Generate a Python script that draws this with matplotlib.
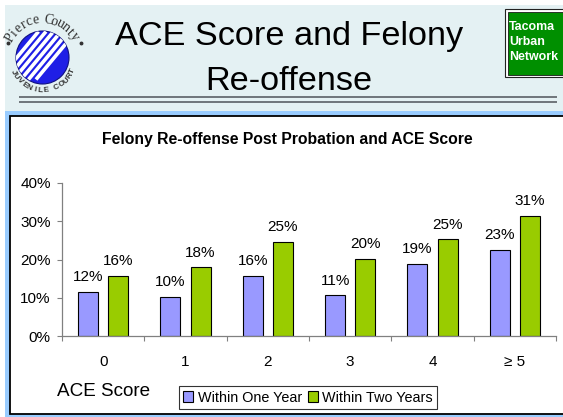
import numpy as np
import matplotlib
matplotlib.use("Agg")
import matplotlib.pyplot as plt
from matplotlib.patches import Rectangle, Circle

plt.rcParams['font.family'] = ['Liberation Sans', 'DejaVu Sans']

# ---- data ----
categories = ['0', '1', '2', '3', '4', '\u2265 5']
one_year = [11.6, 10.3, 15.8, 10.6, 18.9, 22.6]
two_years = [15.8, 18.0, 24.6, 20.2, 25.3, 31.4]
series_names = ['Within One Year', 'Within Two Years']
yticks = [0, 10, 20, 30, 40]
ytick_labels = ['0%', '10%', '20%', '30%', '40%']
chart_title = 'Felony Re-offense Post Probation and ACE Score'
xlabel = 'ACE Score'

W, H = 563, 417
fig = plt.figure(figsize=(W / 100, H / 100), dpi=100)
fig.patch.set_facecolor('white')

# background axes in pixel coords
bg = fig.add_axes([0, 0, 1, 1], zorder=0)
bg.set_xlim(0, W)
bg.set_ylim(H, 0)
bg.axis('off')

bg.add_patch(Rectangle((5, 5), W, 106, facecolor='#e4f1f3', edgecolor='none'))
bg.add_patch(Rectangle((5, 111), W, H, facecolor='#99ccff', edgecolor='none'))
bg.add_patch(Rectangle((9.5, 116), W + 10, 298, facecolor='white', edgecolor='black', linewidth=1.3))
# double rule
for yy in (97.3, 101.8):
    bg.plot([19, 557], [yy, yy], color='#5a6066', linewidth=1.2, solid_capstyle='butt')

# slide title
bg.text(289, 36, 'ACE Score and Felony', fontsize=24.7, ha='center', va='center', color='black')
bg.text(289, 81, 'Re-offense', fontsize=24.7, ha='center', va='center', color='black')

# green box
bg.add_patch(Rectangle((505, 9), 70, 68, facecolor='white', edgecolor='#222222', linewidth=0.8))
bg.add_patch(Rectangle((507.5, 11.5), 70, 63, facecolor='#008f00', edgecolor='#1a1a1a', linewidth=0.6))
for txt, yy in (('Tacoma', 26.5), ('Urban', 42), ('Network', 57)):
    bg.text(509, yy, txt, fontsize=8.9, fontweight='bold', color='white', ha='left', va='center')

# logo
cx, cy, r = 42.5, 57.5, 26.5
circ = Circle((cx, cy), r, facecolor='#1f1fe6', edgecolor='#101080', linewidth=0.8)
bg.add_patch(circ)
for k in range(6):
    off = -14 + k * 7.5
    x0, y0 = cx - 30 + off, cy + 22
    x1, y1 = cx + 10 + off, cy - 26
    ln, = bg.plot([x0, x1], [y0, y1], color='white', linewidth=2.6, solid_capstyle='butt')
    ln.set_clip_path(circ)
bg.plot([8.3, 81], [42.7, 42.7], linestyle='none', marker='o', markersize=1.8, color='#333333')

def arc_text(text, cxx, cyy, rr, a0, a1, top, **kw):
    n = len(text)
    angs = np.linspace(a0, a1, n)
    for ch, a in zip(text, angs):
        t = np.deg2rad(a)
        x = cxx + rr * np.cos(t)
        y = cyy - rr * np.sin(t)
        rot = a - 90 if top else a + 90
        bg.text(x, y, ch, rotation=rot, ha='center', va='center', rotation_mode='anchor', **kw)

arc_text('Pierce County', cx, cy - 1, 37, 150, 32, True, family='Liberation Serif', fontsize=10, color='#333333')
arc_text('JUVENILE COURT', cx, cy, 33, 206, 336, False, fontsize=5.8, fontweight='bold', color='#333333')

# chart title
bg.text(287, 139.5, chart_title, fontsize=11.3, fontweight='bold', ha='center', va='center')
bg.text(104, 391, xlabel, fontsize=13.6, ha='center', va='center')

# ---- chart ----
L, R, B, T = 62, 556, 336, 183
ax = fig.add_axes([L / W, 1 - B / H, (R - L) / W, (B - T) / H], zorder=2)
ax.set_facecolor('none')
x = np.arange(len(categories))
off, bw = 15 / 82, 20 / 82
b1 = ax.bar(x - off, one_year, bw, color='#9999ff', edgecolor='black', linewidth=0.8, label=series_names[0])
b2 = ax.bar(x + off, two_years, bw, color='#99cc00', edgecolor='black', linewidth=0.8, label=series_names[1])
for bars, vals in ((b1, one_year), (b2, two_years)):
    for rect, v in zip(bars, vals):
        ax.annotate(f'{round(v)}%', (rect.get_x() + rect.get_width() / 2, v),
                    xytext=(0, 10.5), textcoords='offset points', ha='center', va='center', fontsize=11)

ax.set_xlim(-0.5, len(categories) - 0.5)
ax.set_ylim(0, 40)
ax.set_yticks(yticks)
ax.set_yticklabels(ytick_labels, fontsize=11)
ax.set_xticks(x)
ax.set_xticklabels(categories, fontsize=11)
ax.set_xticks(np.arange(-0.5, len(categories)), minor=True)
ax.tick_params(axis='x', which='major', length=0, pad=13.5)
ax.tick_params(axis='x', which='minor', length=3.6, direction='out', color='#808080', width=0.8)
ax.tick_params(axis='y', length=3.6, direction='out', color='#808080', width=0.8, pad=4.5)
for s in ('top', 'right'):
    ax.spines[s].set_visible(False)
for s in ('left', 'bottom'):
    ax.spines[s].set_color('#808080')
    ax.spines[s].set_linewidth(0.9)

leg = ax.legend(loc='center', bbox_to_anchor=(308 / W, 1 - 397.5 / H), bbox_transform=fig.transFigure,
                ncol=2, fontsize=10.4, handlelength=0.7, handleheight=0.7, handletextpad=0.3,
                columnspacing=0.4, borderpad=0.3, fancybox=False, frameon=True, borderaxespad=0)
leg.get_frame().set_edgecolor('black')
leg.get_frame().set_linewidth(0.8)

fig.savefig('out.png', dpi=100)
